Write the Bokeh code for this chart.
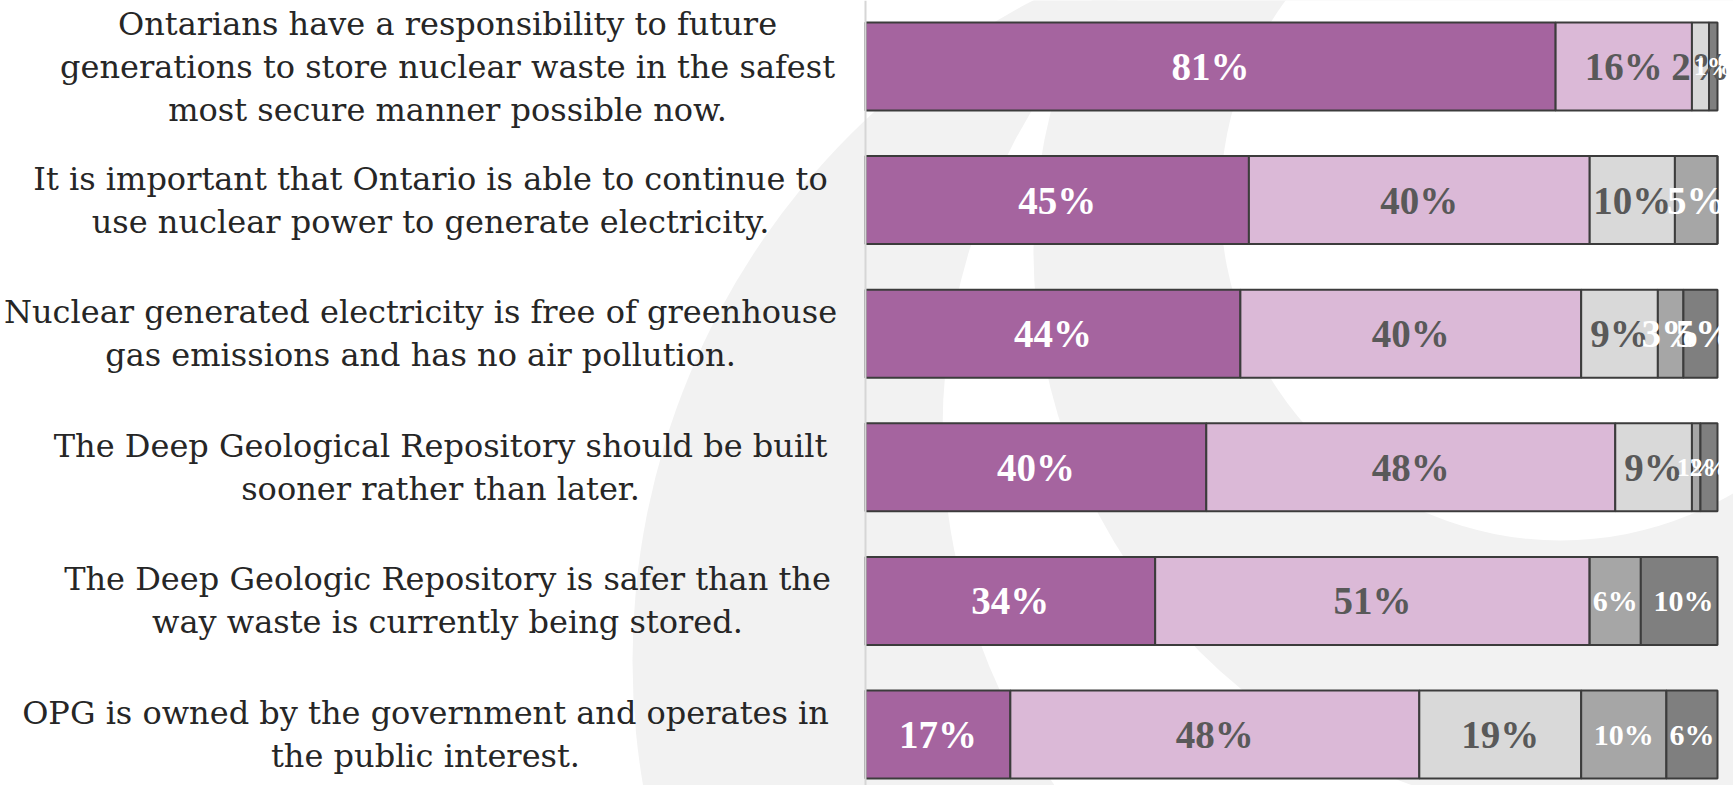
import numpy as np
from bokeh.plotting import figure
from bokeh.models import Range1d, ColumnDataSource, Span
from bokeh.core.properties import value
from bokeh.embed import file_html
from bokeh.resources import INLINE

# ---------------- data ----------------
statements = [
    "Ontarians have a responsibility to future\ngenerations to store nuclear waste in the safest\nmost secure manner possible now.",
    "It is important that Ontario is able to continue to\nuse nuclear power to generate electricity.",
    "Nuclear generated electricity is free of greenhouse\ngas emissions and has no air pollution.",
    "The Deep Geological Repository should be built\nsooner rather than later.",
    "The Deep Geologic Repository is safer than the\nway waste is currently being stored.",
    "OPG is owned by the government and operates in\nthe public interest.",
]
strongly_agree = [81, 45, 44, 40, 34, 17]
somewhat_agree = [16, 40, 40, 48, 51, 48]
dont_know = [2, 10, 9, 9, 0, 19]
somewhat_disagree = [0, 5, 3, 1, 6, 10]
strongly_disagree = [1, 0, 5, 2, 10, 6]

series = [strongly_agree, somewhat_agree, dont_know, somewhat_disagree, strongly_disagree]
fills = ["#A5649F", "#DBB9D7", "#D9D9D9", "#A6A6A6", "#7F7F7F"]
label_colors = ["#FFFFFF", "#595959", "#595959", "#FFFFFF", "#FFFFFF"]

# ---------------- layout ----------------
W, H = 1733, 785
PX_PER_PCT = 8.52
ZERO_X = 865.0          # page x of 0 %
ROW0_Y = 66.0           # page y of first row centre
ROW_STEP = 133.6
BAR_H = 0.659

x0 = (0 - ZERO_X) / PX_PER_PCT
x1 = (W - ZERO_X) / PX_PER_PCT
y_top = (0 - ROW0_Y) / ROW_STEP
y_bot = (H - ROW0_Y) / ROW_STEP

p = figure(width=W, height=H, output_backend="svg", toolbar_location=None,
           x_range=Range1d(x0, x1), y_range=Range1d(y_bot, y_top),
           min_border=0, min_border_left=0, min_border_right=0,
           min_border_top=0, min_border_bottom=0)
p.axis.visible = False
p.grid.visible = False
p.outline_line_color = None
p.background_fill_color = "white"
p.border_fill_color = "white"

# pixel-space ranges (page coordinates) for decoration & statement text
p.extra_x_ranges = {"px": Range1d(0, W)}
p.extra_y_ranges = {"py": Range1d(H, 0)}

BG = "#F2F2F2"
# decorative background swooshes (layered discs)
p.circle(x=[1376], y=[660], radius=744, fill_color=BG, line_color=None,
         x_range_name="px", y_range_name="py")
p.circle(x=[1560], y=[430], radius=618, fill_color="white", line_color=None,
         x_range_name="px", y_range_name="py")
p.circle(x=[1600], y=[250], radius=567, fill_color=BG, line_color=None,
         x_range_name="px", y_range_name="py")
p.circle(x=[1560], y=[200], radius=340, fill_color="white", line_color=None,
         x_range_name="px", y_range_name="py")

p.add_layout(Span(location=0, dimension="height", line_color="#D6D6D6", line_width=2))

# ---------------- stacked bars ----------------
SMALL_LABELS = {(0, 4), (3, 3), (3, 4)}     # (row, series) labels squeezed into slivers
n = len(statements)
ys = np.arange(n)
left = np.zeros(n)
lab_x, lab_y, lab_t, lab_c, lab_s = [], [], [], [], []
for k, vals in enumerate(series):
    v = np.array(vals, dtype=float)
    right = left + v
    src = ColumnDataSource(dict(y=ys, left=np.minimum(left, 100), right=np.minimum(right, 100)))
    p.hbar(y="y", left="left", right="right", height=BAR_H, source=src,
           fill_color=fills[k], line_color="#3C3C3C", line_width=2)
    for i in range(n):
        if v[i] <= 0:
            continue
        lab_x.append((left[i] + right[i]) / 2)
        lab_y.append(ys[i])
        lab_t.append(f"{int(v[i])}%")
        lab_c.append(label_colors[k])
        if (i, k) in SMALL_LABELS:
            size = "26px"
        elif k >= 3 and v[i] >= 6:
            size = "30px"
        else:
            size = "39px"
        lab_s.append(size)
    left = right

lsrc = ColumnDataSource(dict(x=lab_x, y=lab_y, t=lab_t, c=lab_c, s=lab_s))
p.text(x="x", y="y", text="t", source=lsrc, text_color="c", text_font_size="s",
       text_font=value("Liberation Serif"), text_font_style="bold",
       text_align="center", text_baseline="middle")

# ---------------- statement labels ----------------
label_centres = [447, 430, 420, 440, 447, 425]   # page x of each label block centre
LINE_STEP = 43.0
tx, ty, tt = [], [], []
for i, s in enumerate(statements):
    lines = s.split("\n")
    m = len(lines)
    yc = ROW0_Y + i * ROW_STEP
    for j, ln in enumerate(lines):
        tx.append(label_centres[i])
        ty.append(yc + (j - (m - 1) / 2) * LINE_STEP)
        tt.append(ln)
tsrc = ColumnDataSource(dict(x=tx, y=ty, t=tt))
p.text(x="x", y="y", text="t", source=tsrc, x_range_name="px", y_range_name="py",
       text_color="#262626", text_font_size="32px", text_font=value("DejaVu Serif"),
       text_align="center", text_baseline="middle")

open("out.html", "w").write(file_html(p, INLINE))
